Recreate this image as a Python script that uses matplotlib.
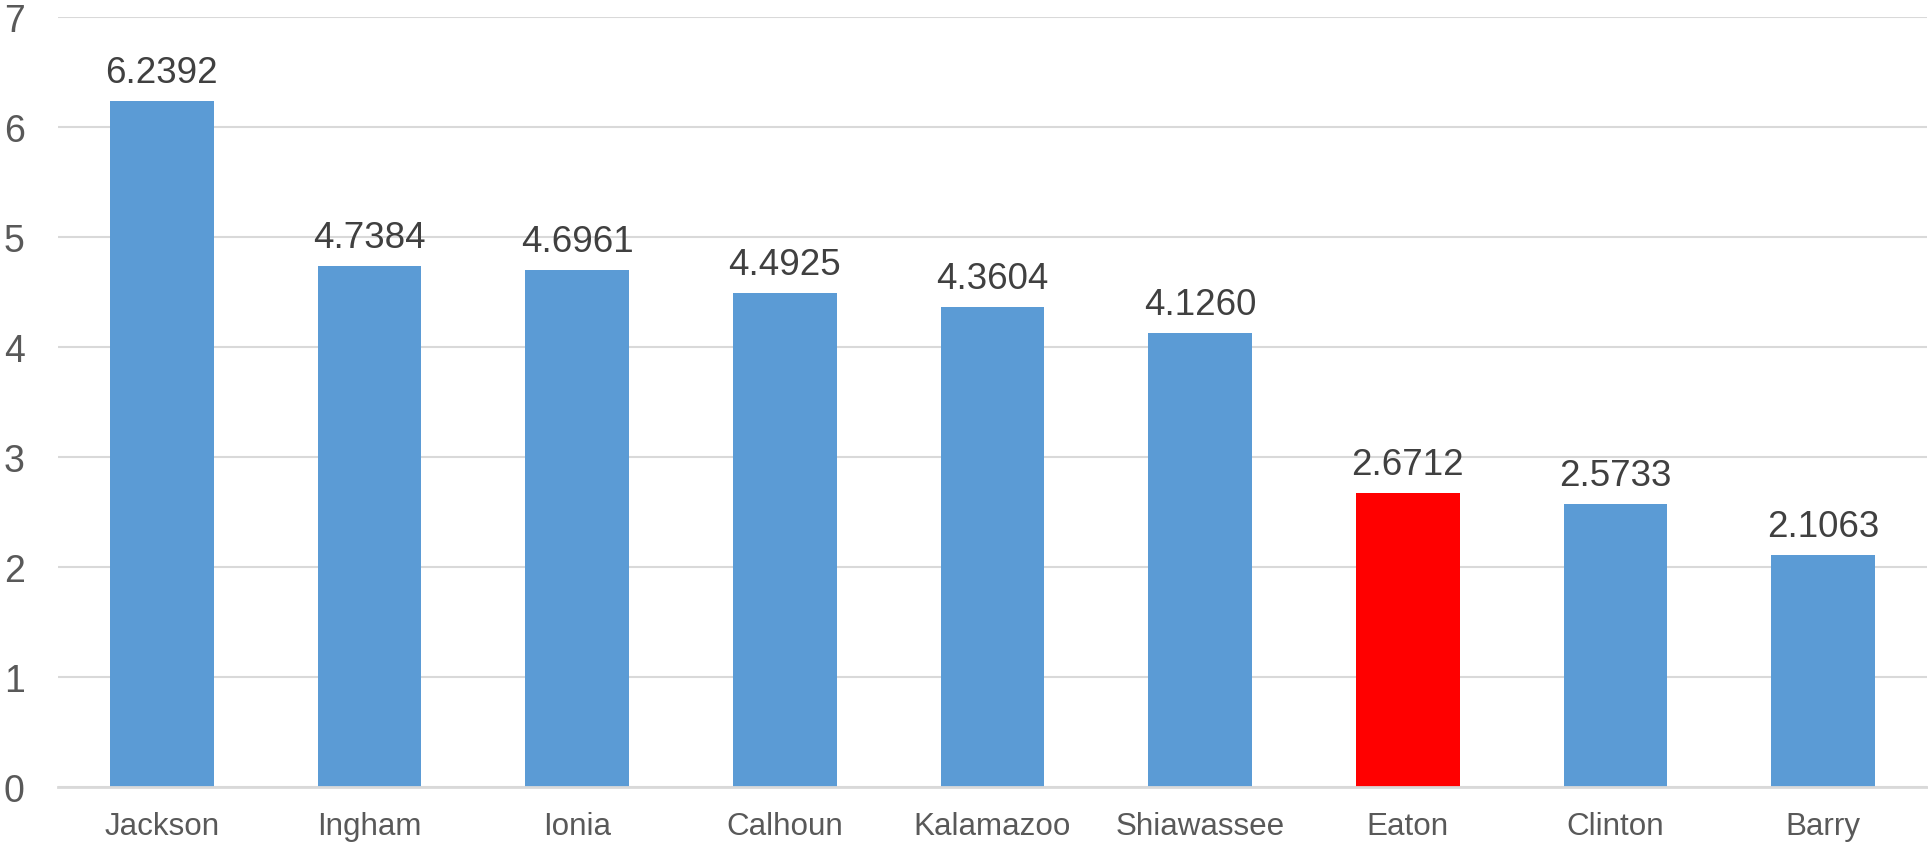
import matplotlib
matplotlib.use("Agg")
import matplotlib.pyplot as plt

# 数据
counties = ["Jackson", "Ingham", "Ionia", "Calhoun", "Kalamazoo",
            "Shiawassee", "Eaton", "Clinton", "Barry"]
values = [6.2392, 4.7384, 4.6961, 4.4925, 4.3604, 4.1260, 2.6712, 2.5733, 2.1063]
highlight = "Eaton"

plt.rcParams["font.family"] = ["Liberation Sans", "DejaVu Sans"]

colors = ["#ff0000" if c == highlight else "#5b9bd5" for c in counties]

fig = plt.figure(figsize=(19.28, 8.45), dpi=100)
ax = fig.add_axes([58 / 1928, 1 - 788 / 845, 1869 / 1928, 770 / 845])

x = range(len(counties))
bars = ax.bar(x, values, width=0.5, color=colors, zorder=3)

# 数据标签
for rect, v in zip(bars, values):
    ax.annotate(f"{v:.4f}", (rect.get_x() + rect.get_width() / 2, v),
                xytext=(0, 8), textcoords="offset points",
                ha="center", va="bottom", fontsize=26.5, color="#404040")

ax.set_xlim(-0.5, len(counties) - 0.5)
ax.set_ylim(0, 7)
ax.set_yticks(range(0, 8))
ax.set_xticks(list(x))
ax.set_xticklabels(counties)

ax.grid(axis="y", color="#d9d9d9", linewidth=1.5, zorder=0)
for s in ["top", "right", "left"]:
    ax.spines[s].set_visible(False)
ax.spines["bottom"].set_color("#d9d9d9")
ax.spines["bottom"].set_linewidth(2)
ax.spines["bottom"].set_zorder(4)

ax.tick_params(axis="y", length=0, pad=24, labelsize=27, labelcolor="#595959")
ax.tick_params(axis="x", length=0, pad=17, labelsize=22.6, labelcolor="#595959")

fig.savefig("out.png", dpi=100)
